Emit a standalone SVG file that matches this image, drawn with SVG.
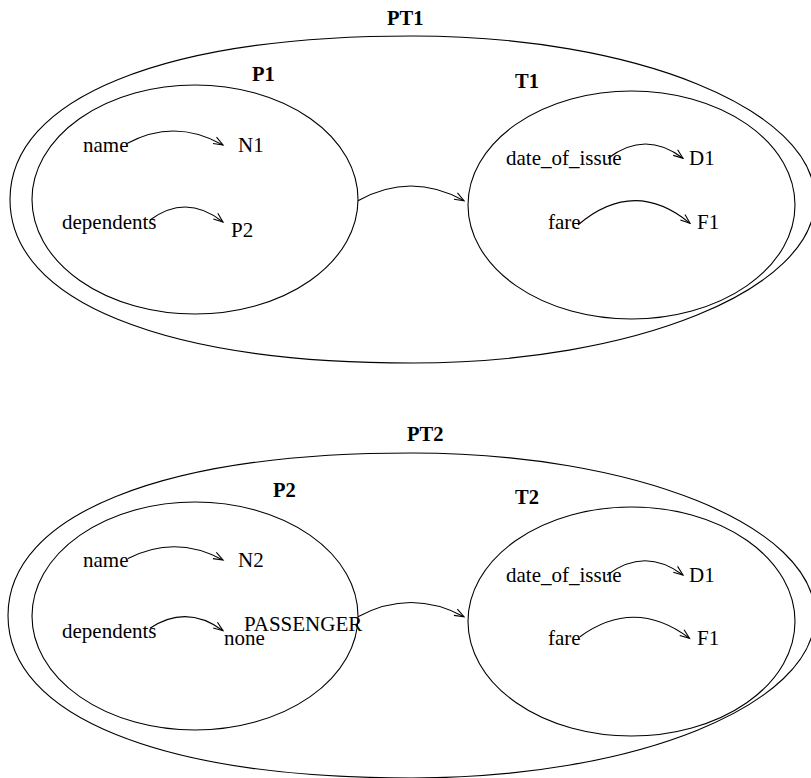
<svg xmlns="http://www.w3.org/2000/svg" width="811" height="778" viewBox="0 0 811 778">
<style>
.sh{fill:none;stroke:#000;stroke-width:1.1}
.t{font-family:"Liberation Serif","Times New Roman",serif;font-size:21px;fill:#000}
.b{font-family:"Liberation Serif","Times New Roman",serif;font-size:20.5px;font-weight:bold;fill:#000}
.c{fill:none;stroke:#000;stroke-width:1.1}
</style>
<defs>
<marker id="ah" markerUnits="userSpaceOnUse" markerWidth="14" markerHeight="12" viewBox="-11 -6 14 12" refX="0" refY="0" orient="auto">
<path d="M-9.5,-3.6 L0,0 L-9.5,3.6" fill="none" stroke="#000" stroke-width="1.1"/>
</marker>
</defs>
<rect width="811" height="778" fill="#fff"/>

<g id="PT1">
<path class="sh" d="M412.5,36 C634.8,36 815,109.2 815,199.5 C815,289.8 634.8,363 412.5,363 C162.95,363 10,300.9 10,199.5 C10,98.1 162.95,36 412.5,36 Z"/>
<text class="b" x="387" y="25">PT1</text>
</g>
<g id="P1">
<ellipse class="sh" cx="195" cy="199.5" rx="163" ry="114.5"/>
<text class="b" x="252" y="81">P1</text>
<text class="t" x="83" y="152">name</text>
<text class="t" x="238" y="152">N1</text>
<text class="t" x="62" y="229">dependents</text>
<text class="t" x="231" y="237">P2</text>
</g>
<g id="T1">
<ellipse class="sh" cx="631.5" cy="205" rx="163.5" ry="114"/>
<text class="b" x="515" y="88">T1</text>
<text class="t" x="506" y="165">date_of_issue</text>
<text class="t" x="689" y="165">D1</text>
<text class="t" x="548" y="229">fare</text>
<text class="t" x="697" y="229">F1</text>
</g>

<g id="PT2">
<path class="sh" d="M411.5,453 C634.35,453 815,525.75 815,615.5 C815,705.25 634.35,778 411.5,778 C161.3,778 8,716.25 8,615.5 C8,514.75 161.3,453 411.5,453 Z"/>
<text class="b" x="407" y="441">PT2</text>
</g>
<g id="P2">
<ellipse class="sh" cx="195" cy="616" rx="163" ry="114"/>
<text class="b" x="273" y="497">P2</text>
<text class="t" x="83" y="567">name</text>
<text class="t" x="238" y="567">N2</text>
<text class="t" x="62" y="638">dependents</text>
<text class="t" x="224" y="645">none</text>
<text class="t" x="244" y="631">PASSENGER</text>
</g>
<g id="T2">
<ellipse class="sh" cx="631.5" cy="621.5" rx="163.5" ry="114.5"/>
<text class="b" x="515" y="504">T2</text>
<text class="t" x="506" y="582">date_of_issue</text>
<text class="t" x="689" y="582">D1</text>
<text class="t" x="548" y="645">fare</text>
<text class="t" x="697" y="645">F1</text>
</g>

<g id="connectors" marker-end="url(#ah)">
<path class="c" d="M127,143.5 Q175,117.75 223,145" marker-end="url(#ah)"/>
<path class="c" d="M150,220 Q186.5,193 223,222" marker-end="url(#ah)"/>
<path class="c" d="M358,200.7 Q411,171.3 464,200.7" marker-end="url(#ah)"/>
<path class="c" d="M608,158.3 Q645.5,129.7 683,158.3" marker-end="url(#ah)"/>
<path class="c" d="M578,225 Q634,177.2 690,223.3" marker-end="url(#ah)"/>
<path class="c" d="M128,558.5 Q175.5,534.2 223,560" marker-end="url(#ah)"/>
<path class="c" d="M150,628.3 Q186.5,603.9 223,630.7" marker-end="url(#ah)"/>
<path class="c" d="M358,616.7 Q411,588.3 464,616.7" marker-end="url(#ah)"/>
<path class="c" d="M607,575 Q645,546.4 683,575" marker-end="url(#ah)"/>
<path class="c" d="M580,636.7 Q634.75,597.1 689.5,638.3" marker-end="url(#ah)"/>
</g>
</svg>
